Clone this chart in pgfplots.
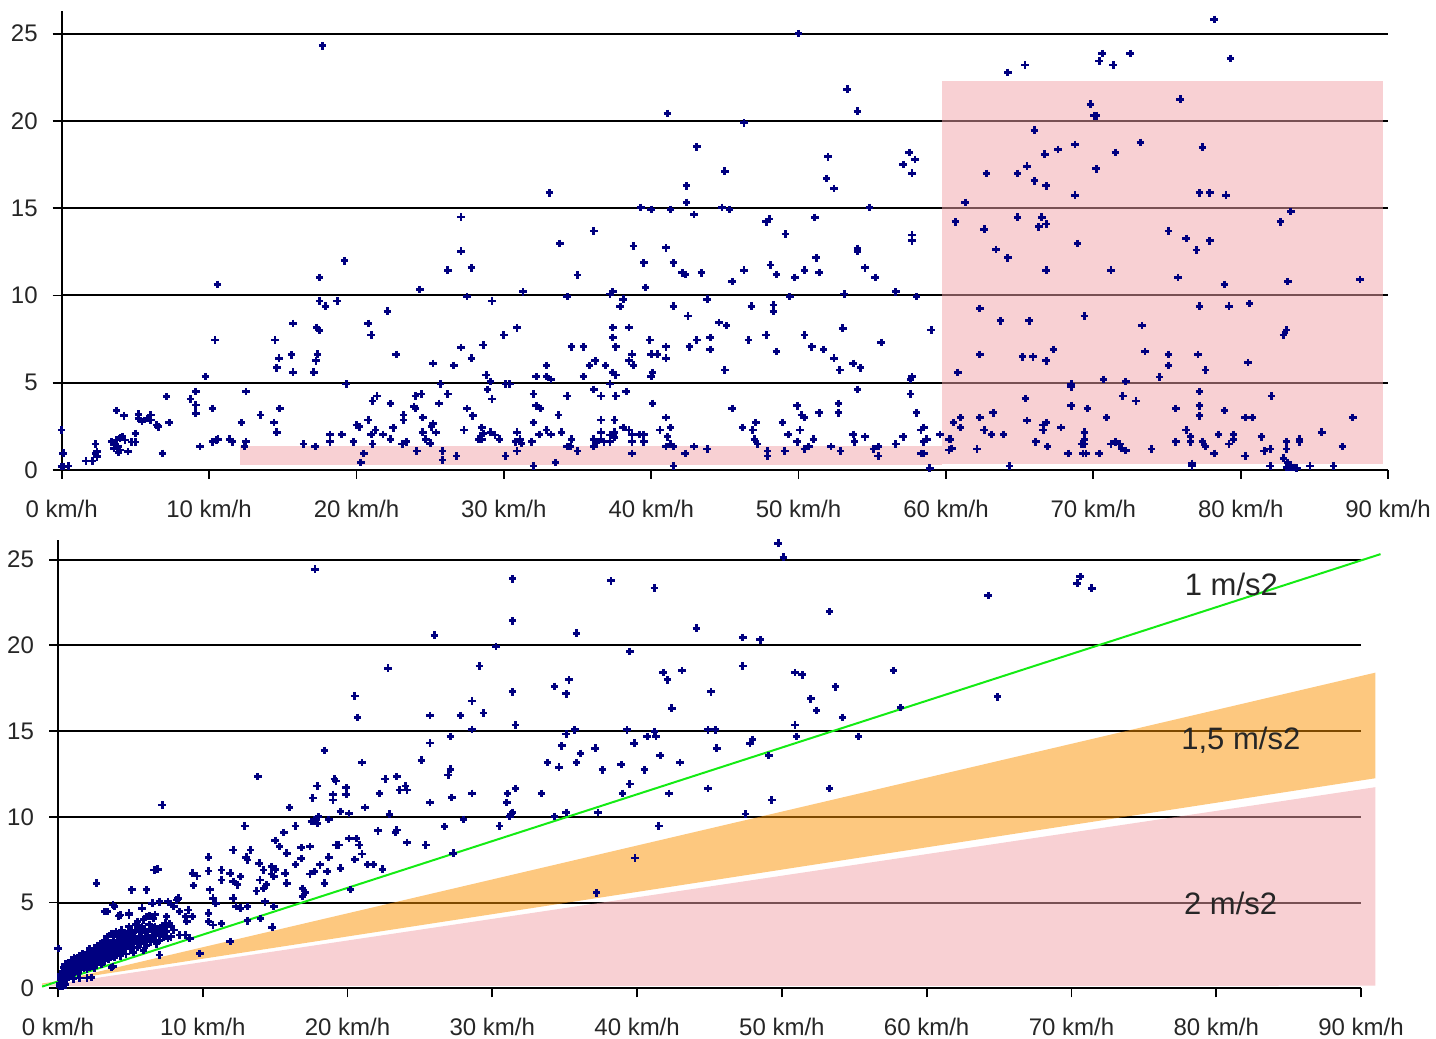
\documentclass[border=0pt]{standalone}
\usepackage{fontspec}
\setmainfont{Liberation Sans}
\usepackage{pgfplots}
\usepackage{pgfplotstable}
\pgfplotsset{compat=1.18}
\definecolor{navyc}{RGB}{0,0,128}
\definecolor{pinkc}{RGB}{241,161,167}
\definecolor{orangec}{RGB}{251,146,0}
\definecolor{greenc}{RGB}{20,235,20}

\pgfplotstableread{
x y
0 2.29
0.1 0.96
0.0 0.19
0.15 0.21
0.45 0.23
1.65 0.52
2.1 0.52
2.3 1.49
2.4 1.05
2.4 0.76
2.3 0.95
3.73 3.4
4.23 3.11
3.4 1.62
3.6 1.49
3.8 1.34
3.95 1.82
4.1 1.91
4.3 1.72
3.95 1.15
3.85 1.0
4.5 1.05
3.7 1.72
3.55 1.24
5.0 2.1
5.0 1.6
4.75 1.6
5.2 3.2
5.2 2.95
5.45 2.77
5.8 2.95
6.05 3.15
6.05 2.86
6.45 2.58
6.55 2.48
7.3 2.71
7.12 4.2
6.83 0.95
8.75 4.07
9.1 4.49
9.1 3.72
9.1 3.25
9.75 5.35
9.38 1.34
10.22 3.53
10.4 7.45
10.56 10.63
10.24 1.62
10.5 1.72
10.6 1.76
11.4 1.76
11.6 1.62
12.2 2.71
12.5 4.49
12.5 1.62
12.4 1.34
13.5 3.15
14.47 7.45
14.4 2.71
14.6 2.16
14.8 3.53
14.6 5.86
14.75 6.4
15.6 6.6
15.7 8.4
15.7 5.6
16.4 1.49
17.2 1.34
17.1 5.6
17.25 6.26
17.35 6.64
17.3 8.17
17.5 8.0
17.5 11.03
17.5 9.68
17.9 9.39
18.7 9.68
19.2 11.99
19.3 4.93
18.2 2.04
18.2 1.62
19.0 2.04
19.8 1.62
20.0 2.58
20.2 2.48
20.5 0.95
20.3 0.42
20.8 2.86
20.8 8.4
21.0 7.73
21.1 3.95
21.4 4.24
21.0 2.04
21.1 1.49
21.3 2.29
21.8 2.04
22.1 9.1
22.3 3.82
22.3 1.76
22.5 2.42
22.7 6.62
23.2 3.15
23.2 2.86
23.1 1.49
23.4 1.62
23.9 3.63
24.0 3.53
24.0 4.24
24.4 4.35
24.1 1.09
24.3 10.35
24.5 3.0
24.5 2.16
24.7 1.76
25.0 1.53
25.2 6.11
25.2 2.67
25.1 2.48
25.4 2.14
25.6 3.82
25.7 4.93
25.85 1.09
25.85 0.57
26.2 11.45
26.2 4.35
26.6 5.99
26.8 0.8
27.1 12.54
27.1 7.03
27.3 2.29
27.5 9.93
27.5 3.53
27.8 11.59
27.8 6.4
27.9 3.11
28.3 1.76
17.7 24.3
27.1 14.5
33.1 15.88
33.8 12.98
36.1 13.69
38.8 12.83
41.0 12.73
39.3 15.04
40.0 14.93
41.3 14.93
41.1 20.43
42.4 16.28
42.4 15.33
42.9 14.64
43.1 18.52
45.0 17.12
44.8 15.04
45.3 14.93
46.3 19.89
47.8 14.22
48.0 14.38
49.1 13.52
50.0 25.0
51.1 14.47
51.9 16.7
52.0 17.95
52.4 16.13
53.3 21.82
54.0 20.56
54.0 12.7
54.8 15.04
57.1 17.5
57.5 18.2
57.9 17.8
57.7 17.0
57.7 13.46
57.7 13.13
39.5 11.87
41.5 11.87
42.1 11.3
42.3 11.2
43.4 11.3
45.5 10.79
46.3 11.45
48.1 11.74
48.5 11.2
49.75 11.03
50.4 11.45
51.2 12.16
51.4 11.32
54.0 12.54
54.5 11.59
55.2 11.03
56.6 10.21
58.0 9.93
59.0 8.02
31.3 10.21
29.2 9.68
34.3 9.93
35.0 11.17
37.2 10.08
37.4 10.21
38.1 9.79
37.9 9.36
39.6 10.46
41.5 9.39
42.5 8.82
43.8 9.79
44.6 8.44
45.1 8.27
46.8 9.39
48.3 9.45
48.3 9.1
49.4 9.93
53.1 10.08
53.0 8.13
55.6 7.31
30.0 7.73
30.9 8.15
28.6 7.16
34.6 7.06
35.4 7.06
37.4 8.17
37.4 7.6
37.6 7.06
38.5 8.17
38.7 6.64
38.5 6.26
38.8 6.01
39.9 7.45
40.0 6.64
40.4 6.64
41.0 7.06
41.0 6.4
42.6 7.06
43.1 7.45
44.0 7.6
44.0 6.91
45.0 5.73
46.6 7.45
47.8 7.73
48.5 6.78
50.4 7.73
50.9 7.06
51.7 6.91
52.4 6.4
52.8 5.73
53.7 6.11
54.2 5.86
28.8 5.44
29.1 5.06
28.9 4.62
29.2 4.07
30.1 4.93
30.4 4.93
32.2 5.35
32.9 5.99
32.9 5.35
33.2 5.19
32.0 4.35
32.2 3.68
32.5 3.53
34.3 4.24
35.4 5.35
35.8 5.99
36.2 6.26
36.9 5.99
37.4 5.59
37.6 5.44
36.1 4.62
36.6 4.24
37.2 4.93
37.6 4.24
38.3 4.49
40.0 5.35
40.1 5.57
40.1 3.82
41.0 3.0
33.7 3.15
32.0 2.71
32.4 2.04
32.9 2.29
33.2 2.04
31.9 1.62
33.9 2.16
34.6 1.76
30.9 2.16
30.8 1.62
31.1 1.76
31.2 1.53
28.5 2.44
28.6 2.1
28.5 1.76
29.1 2.16
29.4 2.0
29.7 1.76
36.1 1.76
36.3 1.57
36.6 2.86
36.6 2.16
36.6 1.76
36.8 1.62
37.2 1.62
37.4 2.04
37.5 2.86
37.5 2.16
37.2 2.0
37.5 1.87
38.1 2.44
38.5 2.29
38.7 2.04
38.7 1.62
39.2 2.04
39.5 2.04
39.5 1.62
40.6 2.29
41.3 2.44
41.1 1.9
41.3 1.49
45.5 3.53
46.2 2.44
46.9 2.29
47.0 1.76
47.2 1.49
47.1 2.71
48.9 2.71
49.3 2.04
49.9 1.62
50.1 2.29
49.9 3.68
50.2 3.15
50.4 3.0
51.4 3.28
52.7 3.82
52.7 3.28
51.0 1.76
53.7 2.04
53.8 1.62
54.5 1.9
54.0 4.62
56.6 1.49
57.1 1.9
57.6 4.35
58.0 3.28
57.7 5.35
57.6 5.19
58.3 2.29
58.5 2.44
58.5 1.62
58.7 1.76
58.9 0.1
59.6 2.04
60.2 1.76
30.1 0.8
30.9 1.09
32.0 0.23
33.5 0.42
34.3 1.34
34.5 1.34
35.0 1.09
36.1 1.34
38.7 0.95
41.0 1.34
41.5 1.34
41.5 0.23
42.3 0.95
42.9 1.34
43.8 1.2
47.9 1.09
47.9 0.8
49.07 1.09
50.4 1.2
50.7 1.34
52.2 1.34
52.85 1.09
55.1 1.2
55.4 1.34
55.4 0.8
58.3 0.95
58.5 0.95
64.2 22.78
65.36 23.2
70.4 23.44
70.6 23.86
71.35 23.2
72.5 23.86
78.2 25.81
79.3 23.58
69.8 20.96
70.04 20.3
70.2 20.3
75.9 21.25
66.0 19.47
66.7 18.1
67.6 18.37
68.75 18.65
71.5 18.2
73.2 18.77
77.4 18.5
62.75 16.99
64.86 16.99
65.5 17.41
66.0 16.57
66.8 16.28
70.2 17.26
68.75 15.75
77.2 15.88
77.9 15.88
79.0 15.75
61.3 15.33
60.65 14.22
62.6 13.8
64.86 14.49
66.5 14.49
66.3 13.94
66.8 14.09
63.4 12.64
68.93 12.98
75.1 13.69
76.3 13.27
77.9 13.13
77.0 12.6
82.7 14.22
83.4 14.8
64.2 12.16
66.8 11.45
71.2 11.45
75.75 11.03
78.9 10.63
83.2 10.79
88.1 10.92
62.3 9.26
63.7 8.55
65.65 8.55
69.4 8.82
73.3 8.27
77.2 9.39
79.2 9.39
80.6 9.55
82.9 7.73
83.1 8.02
62.3 6.62
65.2 6.49
65.9 6.49
67.3 6.91
66.8 6.26
73.5 6.78
75.1 6.62
75.1 5.99
74.5 5.33
77.1 6.62
77.6 5.73
80.5 6.15
60.8 5.59
68.5 4.77
68.5 4.93
70.7 5.19
72.2 5.06
65.4 4.09
72.0 4.24
72.9 3.95
68.5 3.68
69.6 3.53
77.2 4.49
77.2 3.68
77.2 3.11
75.6 3.53
78.9 3.4
82.1 4.24
80.3 3.0
80.8 3.0
87.6 3.0
60.5 2.71
61.0 3.0
61.0 2.44
62.3 3.0
62.6 2.29
63.2 3.28
63.1 2.04
63.9 2.04
65.5 2.84
66.6 2.58
66.8 2.71
66.6 2.29
67.8 2.44
66.1 1.62
66.9 1.34
70.9 3.0
60.3 1.76
60.2 1.15
60.4 1.24
62.1 1.2
68.3 0.95
69.4 2.16
69.4 1.76
69.2 1.49
69.4 1.49
69.3 0.95
69.5 0.95
70.4 0.95
71.2 1.49
71.5 1.62
71.8 1.49
71.9 1.24
72.2 1.11
73.95 1.2
76.3 2.29
76.6 1.9
76.6 1.62
75.6 1.62
77.4 1.62
77.6 1.34
78.2 0.95
78.5 2.04
79.2 1.49
79.5 2.04
79.5 1.76
80.3 0.8
81.4 1.9
81.6 1.09
82.0 1.2
83.1 1.62
83.1 1.2
82.9 0.67
84.0 1.76
84.0 1.62
85.5 2.16
86.9 1.34
64.3 0.23
76.7 0.23
76.7 0.38
82.0 0.23
83.1 0.15
83.3 0.15
83.5 0.15
83.6 0.15
83.8 0.1
83.2 0.42
84.7 0.23
86.3 0.23
}\toptable

\pgfplotstableread{
x y
17.75 24.44
26.0 20.59
22.8 18.67
20.5 17.05
20.7 15.79
29.1 18.8
28.6 16.76
27.8 15.9
25.7 15.9
28.6 15.1
27.1 14.68
25.7 14.3
25.1 13.3
21.0 13.16
18.4 13.87
27.1 12.78
26.95 12.44
23.4 12.34
13.8 12.34
19.1 12.2
22.6 12.2
19.2 12.09
19.9 11.7
19.9 11.3
19.0 11.3
19.0 10.98
17.9 11.8
17.6 11.1
22.2 11.37
23.6 11.57
24.0 11.8
24.1 11.57
25.7 10.83
27.2 11.12
28.6 11.37
7.2 10.69
16.0 10.55
19.5 10.3
20.1 10.2
18.7 9.85
21.2 10.55
22.9 10.15
17.7 9.85
17.9 9.62
17.5 9.72
18.0 10.0
26.7 9.43
28.0 9.85
12.9 9.47
16.4 9.47
15.6 9.08
15.0 8.62
22.1 9.18
23.3 9.08
24.1 8.5
23.4 9.23
25.4 8.36
20.6 8.74
20.8 8.36
20.1 8.74
19.2 8.36
19.4 8.36
12.1 8.07
10.4 7.64
13.3 8.07
13.0 7.64
13.1 7.48
15.3 8.26
15.8 7.88
16.8 8.2
17.4 8.26
13.9 7.29
14.2 6.9
14.75 7.1
15.0 6.94
14.75 6.67
14.9 6.51
13.95 6.32
14.4 6.03
14.2 5.83
13.7 5.67
15.7 6.71
15.8 6.13
16.4 7.23
16.8 7.58
17.4 6.67
17.7 6.81
18.1 7.2
18.6 6.81
18.7 7.64
19.5 7.0
18.4 6.13
20.5 7.52
21.0 7.83
21.4 7.23
21.8 7.23
22.4 6.94
27.3 7.88
20.2 5.77
16.9 5.83
17.1 5.58
16.9 5.35
14.9 4.77
14.3 5.05
14.0 4.08
14.8 3.56
13.1 3.94
13.1 4.77
12.6 4.67
9.3 6.71
9.6 6.55
9.35 5.99
10.4 6.84
11.3 6.9
11.3 6.32
11.9 6.71
12.1 6.22
12.4 6.03
12.6 6.51
10.5 5.74
10.7 5.25
10.9 4.96
10.4 4.38
11.3 3.79
10.7 3.69
10.4 3.89
12.1 5.25
12.3 4.77
6.1 5.74
5.1 5.74
4.9 4.38
4.2 4.22
3.4 4.47
3.9 4.77
5.8 4.67
6.5 4.96
7.0 5.05
7.6 5.05
8.3 5.25
7.8 4.91
2.67 6.13
6.65 6.9
6.9 6.94
8.4 4.47
8.8 4.18
9.0 4.57
9.3 4.18
8.9 3.89
7.5 4.18
7.7 3.79
7.3 3.6
7.8 3.6
8.4 3.11
8.8 3.11
9.1 2.92
6.1 4.18
6.6 4.08
6.8 3.4
7.0 1.94
9.8 2.04
11.9 2.72
3.8 1.26
0.02 2.33
3.8 4.86
3.2 4.47
4.3 4.28
4.9 4.28
8.2 5.15
8.0 4.76
1.06 0.55
1.5 0.6
2.0 0.6
2.3 0.62
3.7 1.22
0.1 0.3
0.2 0.5
0.2 0.8
0.3 0.4
0.3 1.0
0.4 0.6
0.4 1.2
0.5 0.8
0.5 1.4
0.6 0.5
0.6 1.1
0.7 0.9
0.7 1.5
0.8 0.7
0.8 1.3
0.9 1.0
0.9 1.6
1.0 0.8
1.0 1.2
1.1 1.5
1.1 1.8
1.2 1.0
1.3 1.3
1.3 1.7
1.4 0.9
1.4 1.5
1.5 1.1
1.5 1.9
1.6 1.3
1.6 1.6
1.7 2.0
1.8 1.2
1.8 1.5
1.9 1.8
2.0 1.1
2.0 2.1
2.1 1.4
2.1 1.7
2.2 2.3
2.3 1.3
2.3 1.9
2.4 1.6
2.5 2.2
2.5 1.2
2.6 1.8
2.7 2.5
2.7 1.5
2.8 2.0
2.9 1.7
2.9 2.6
3.0 1.4
3.0 2.2
3.1 1.9
3.2 2.8
3.2 1.6
3.3 2.4
3.4 2.0
3.4 3.0
3.5 1.7
3.5 2.6
3.6 2.2
3.7 3.2
3.7 1.9
3.8 2.8
3.9 2.4
3.9 1.8
4.0 3.3
4.0 2.1
4.1 2.7
4.2 2.3
4.2 3.0
4.3 1.9
4.4 2.6
4.4 3.4
4.5 2.2
4.6 2.9
4.7 2.0
4.7 3.2
4.8 2.5
4.9 3.6
5.0 2.3
5.0 2.9
5.1 3.3
5.2 2.1
5.2 2.6
5.3 3.0
5.4 3.7
5.5 2.4
5.5 2.8
5.6 3.3
5.7 2.6
5.8 3.0
5.8 3.6
5.9 2.2
6.0 2.8
6.0 3.4
6.1 2.5
6.2 3.1
6.3 3.7
6.4 2.7
6.5 3.3
6.6 2.9
6.7 3.6
6.8 2.6
6.9 3.2
7.0 2.8
7.1 3.5
7.3 3.0
7.5 3.3
7.8 3.0
8.0 3.4
0.2 0.65
0.35 0.7
0.45 0.95
0.55 1.2
0.65 0.75
0.75 1.2
0.85 0.85
0.95 1.4
1.05 1.0
1.15 1.3
1.25 1.6
1.35 1.1
1.45 1.3
1.55 1.7
1.65 1.45
1.75 1.8
1.85 1.35
1.95 1.6
2.05 1.9
2.15 1.25
2.25 1.6
2.35 2.1
2.45 1.4
2.55 1.9
2.65 2.3
2.75 1.7
2.85 2.2
2.95 1.5
3.05 1.8
3.15 2.5
3.25 2.1
3.35 1.75
3.45 2.7
3.55 2.3
3.65 2.0
3.75 2.6
3.85 3.0
3.95 2.2
4.05 2.5
4.15 3.1
4.25 2.1
4.35 2.8
4.45 2.4
4.55 3.1
4.65 2.6
4.75 2.8
4.85 3.3
4.95 2.6
5.05 3.1
5.15 2.4
5.25 2.85
5.35 3.4
5.45 2.6
5.65 3.0
5.75 3.5
5.95 2.6
6.15 3.3
6.35 2.9
6.55 3.5
6.75 3.1
7.2 3.2
7.6 2.9
5.9 4.0
6.3 4.2
6.7 4.3
5.5 3.9
7.4 3.8
0.3 0.15
0.5 0.2
0.1 0.1
49.75 25.96
50.1 25.14
31.4 23.88
38.2 23.76
41.2 23.34
53.3 21.97
31.4 21.43
35.8 20.71
44.1 21.0
47.3 20.46
48.5 20.32
30.25 19.93
39.5 19.64
47.3 18.8
57.7 18.53
50.9 18.41
51.4 18.28
41.8 18.41
42.1 17.99
43.1 18.53
34.3 17.6
35.3 17.99
35.1 17.17
31.4 17.29
45.1 17.29
53.7 17.58
52.0 16.88
52.4 16.2
54.2 15.79
42.4 16.33
58.2 16.37
29.4 16.06
31.6 15.36
35.1 14.83
35.7 15.07
39.3 15.07
40.7 14.68
41.2 14.97
41.3 14.68
44.9 15.07
45.4 15.07
50.9 15.36
51.0 14.68
47.8 14.29
47.97 14.52
55.3 14.68
34.8 14.14
36.1 13.7
37.1 14.0
39.8 14.29
41.6 13.57
42.96 13.16
45.5 14.0
49.1 13.57
33.8 13.16
34.6 12.89
35.8 13.16
37.6 12.74
38.9 13.04
40.5 12.74
28.6 11.37
31.05 11.37
31.6 11.66
33.4 11.37
31.0 10.83
31.4 10.25
31.2 10.01
31.3 10.17
30.5 9.47
34.3 10.01
35.1 10.25
37.3 10.25
39.0 11.37
39.5 11.92
42.2 11.37
41.5 9.47
44.9 11.66
47.5 10.17
49.3 10.98
53.3 11.66
64.25 22.9
70.6 24.01
70.4 23.63
71.4 23.33
64.9 17.0
39.85 7.6
37.2 5.57
}\bottomtable

\pgfplotsset{
  speedaxis/.style={
    scale only axis, anchor=south west,
    xmin=0, xmax=90, ymin=0,
    axis lines*=left,
    axis line style={black, line width=0.9pt},
    xtick={0,10,...,90},
    xticklabels={0 km/h,10 km/h,20 km/h,30 km/h,40 km/h,50 km/h,60 km/h,70 km/h,80 km/h,90 km/h},
    ytick={0,5,10,15,20,25},
    yticklabels={0,5,10,15,20,25},
    tick align=outside, major tick length=4.5pt,
    tick style={black, line width=0.9pt},
    ymajorgrids, major grid style={black, line width=1pt},
    ticklabel style={font=\fontsize{12}{14}\selectfont, text=black!85},
    xticklabel style={yshift=-7pt},
    yticklabel style={xshift=-4pt},
    clip=false,
  },
  dots/.style={only marks, mark=+, mark size=1.9pt, color=navyc, mark options={line width=1.4pt}},
}

\begin{document}
\begin{tikzpicture}
\useasboundingbox (0,0) rectangle (718pt,519.5pt);
% top chart
\begin{axis}[speedaxis, at={(30.85pt,284.5pt)}, width=663.2pt, height=229.5pt, ymax=26.3]
\addplot[dots] table[x=x,y=y] {\toptable};
\addplot[draw=none, fill=pinkc, fill opacity=0.5] coordinates {(59.72,0.34) (59.72,22.3) (89.64,22.3) (89.64,0.34)} -- cycle;
\addplot[draw=none, fill=pinkc, fill opacity=0.5] coordinates {(12.1,0.29) (12.1,1.39) (59.72,1.39) (59.72,0.29)} -- cycle;
\end{axis}
% bottom chart
\begin{axis}[speedaxis, at={(29pt,25.35pt)}, width=651.5pt, height=224.2pt, ymax=26.15]
\addplot[dots] table[x=x,y=y] {\bottomtable};
\addplot[draw=none, fill=orangec, fill opacity=0.5] coordinates {(-1.1,0.2) (91,18.41) (91,12.25) (-1.1,0.28)} -- cycle;
\addplot[draw=none, fill=pinkc, fill opacity=0.5] coordinates {(-1.1,0.13) (91,11.73) (91,0.15) (0,0.13)} -- cycle;
\addplot[greenc, line width=1pt] coordinates {(-1.1,0.1) (91.35,25.32)};
\node[font=\fontsize{15.5}{18}\selectfont, text=black!85] at (axis cs:81.05,23.53) {1 m/s2};
\node[font=\fontsize{15.5}{18}\selectfont, text=black!85] at (axis cs:81.7,14.45) {1,5 m/s2};
\node[font=\fontsize{15.5}{18}\selectfont, text=black!85] at (axis cs:81.0,4.96) {2 m/s2};
\end{axis}
\end{tikzpicture}
\end{document}
